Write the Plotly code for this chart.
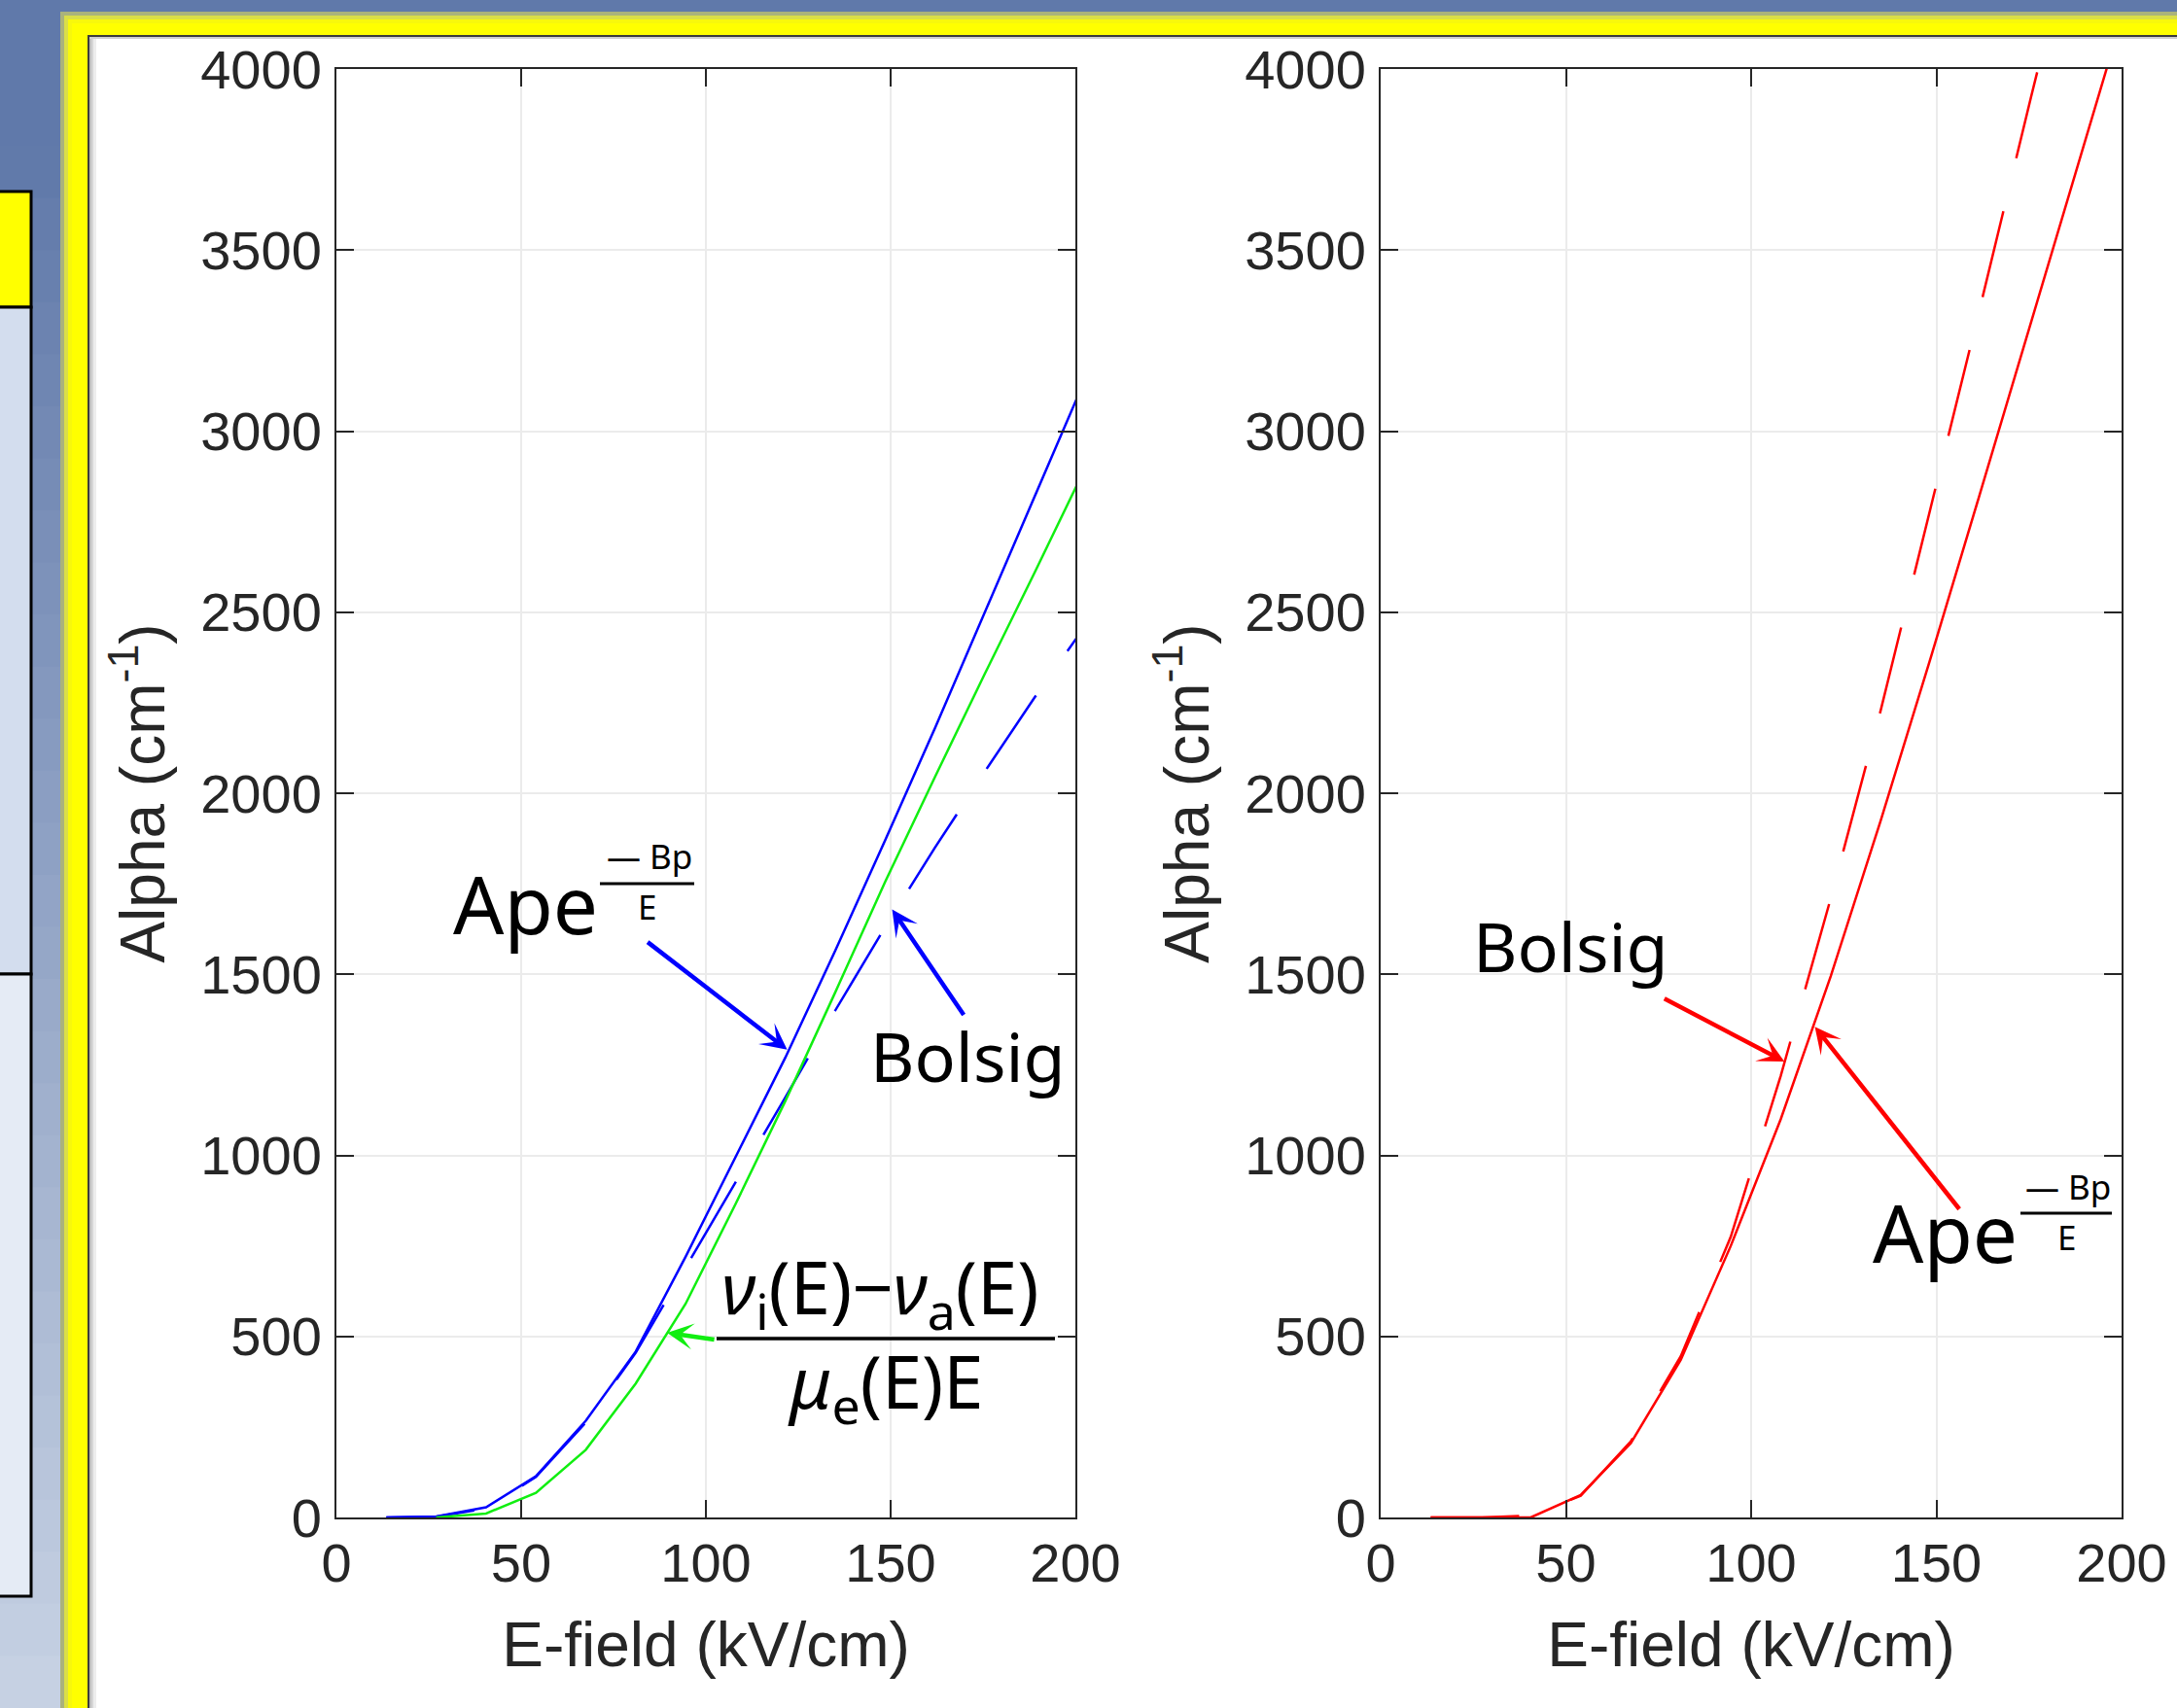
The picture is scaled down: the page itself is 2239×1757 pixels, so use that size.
import plotly.graph_objects as go

W, H = 2239, 1757

# ---------------- data ----------------
E_kVcm = [13.5, 27, 40.5, 54, 67.5, 81, 94.5, 108, 121.5, 135, 148.5, 162, 175.5, 189, 202.5]
alpha_fit_left = [0, 3, 28, 114, 267, 458, 720, 993, 1270, 1565, 1870, 2180, 2502, 2820, 3140]
alpha_bolsig_left = [0, 2, 25, 112, 262, 455, 690, 925, 1160, 1400, 1630, 1850, 2060, 2265, 2460]
E_kinetic = [27, 40.5, 54, 67.5, 81, 94.5, 108, 121.5, 135, 148.5, 162, 175.5, 189, 202.5]
alpha_kinetic_left = [0, 11, 68, 187, 370, 590, 865, 1150, 1450, 1755, 2045, 2330, 2610, 2895]
alpha_fit_right = [0, 0, 0, 62, 205, 435, 750, 1100, 1495, 1925, 2375, 2835, 3295, 3760, 4225]
alpha_bolsig_right = [0, 0, 5, 60, 210, 445, 775, 1220, 1710, 2230, 2790, 3350, 3920, 4480, 5040]

x_tickvals = [0, 50, 100, 150, 200]
x_ticktext = ["0", "50", "100", "150", "200"]
y_tickvals = [0, 500, 1000, 1500, 2000, 2500, 3000, 3500, 4000]
y_ticktext = ["0", "500", "1000", "1500", "2000", "2500", "3000", "3500", "4000"]

x_title = "E-field (kV/cm)"
y_title = "Alpha (cm<sup>-1</sup>)"

# arrow tips (data coords) and tail offsets (px)
arrow_left_fit = (122.0, 1292, -144, -111)
arrow_left_bolsig = (150.4, 1679, 74, 109)
arrow_left_kinetic = (89.5, 510, 49, 7)
arrow_right_bolsig = (109.0, 1259, -124, -65)
arrow_right_fit = (117.2, 1355, 149, 188)

BLUE = "#0000ff"
GREEN = "#11ee11"
RED = "#ff0000"
AXC = "#262626"
DASH = "91px,56px"


def px(x):
    return x / W


def py(y):
    return 1 - y / H


fig = go.Figure()

fig.add_trace(go.Scatter(x=E_kVcm, y=alpha_fit_left, mode="lines",
                         line=dict(color=BLUE, width=2.5), xaxis="x", yaxis="y"))
fig.add_trace(go.Scatter(x=E_kVcm, y=alpha_bolsig_left, mode="lines",
                         line=dict(color=BLUE, width=2.5, dash=DASH), xaxis="x", yaxis="y"))
fig.add_trace(go.Scatter(x=E_kinetic, y=alpha_kinetic_left, mode="lines",
                         line=dict(color=GREEN, width=2.5), xaxis="x", yaxis="y"))
fig.add_trace(go.Scatter(x=E_kVcm, y=alpha_fit_right, mode="lines",
                         line=dict(color=RED, width=2.5), xaxis="x2", yaxis="y2"))
fig.add_trace(go.Scatter(x=E_kVcm, y=alpha_bolsig_right, mode="lines",
                         line=dict(color=RED, width=2.5, dash=DASH), xaxis="x2", yaxis="y2"))

tickfont = dict(family="Liberation Sans, Arial, sans-serif", size=56, color=AXC)
titlefont = dict(family="Liberation Sans, Arial, sans-serif", size=64, color=AXC)

common = dict(showline=True, linecolor=AXC, linewidth=2, mirror="ticks",
              ticks="inside", ticklen=18, tickwidth=2, tickcolor=AXC,
              showgrid=True, gridcolor="#ebebeb", gridwidth=1.5,
              zeroline=False, tickfont=tickfont, automargin=False)

xdom_l = [px(346), px(1106)]
xdom_r = [px(1420), px(2182)]
ydom = [py(1561), py(71)]

fig.update_layout(
    width=W, height=H, margin=dict(l=0, r=0, t=0, b=0, pad=0),
    paper_bgcolor="#6079aa", plot_bgcolor="rgba(0,0,0,0)", showlegend=False,
    xaxis=dict(domain=xdom_l, range=[0, 200], anchor="y", tickvals=x_tickvals, ticktext=x_ticktext,
               title=dict(text=x_title, font=titlefont, standoff=31), ticklabelstandoff=-3, **common),
    yaxis=dict(domain=ydom, range=[0, 4000], anchor="x", tickvals=y_tickvals, ticktext=y_ticktext,
               title=dict(text=y_title, font=titlefont, standoff=16), ticklabelstandoff=2, **common),
    xaxis2=dict(domain=xdom_r, range=[0, 200], anchor="y2", tickvals=x_tickvals, ticktext=x_ticktext,
                title=dict(text=x_title, font=titlefont, standoff=31), ticklabelstandoff=-3, **common),
    yaxis2=dict(domain=ydom, range=[0, 4000], anchor="x2", tickvals=y_tickvals, ticktext=y_ticktext,
                title=dict(text=y_title, font=titlefont, standoff=16), ticklabelstandoff=2, **common),
)

# ---------------- slide decoration (shapes) ----------------
shapes = []


def rect(x0, y0, x1, y1, fill, lc=None, lw=0):
    shapes.append(dict(type="rect", xref="paper", yref="paper", layer="below",
                       x0=px(x0), x1=px(x1), y0=py(y1), y1=py(y0),
                       fillcolor=fill, line=dict(color=lc or fill, width=lw)))


def hline(x0, x1, y, color, width):
    shapes.append(dict(type="line", xref="paper", yref="paper", layer="above",
                       x0=px(x0), x1=px(x1), y0=py(y), y1=py(y),
                       line=dict(color=color, width=width)))


# left strip gradient
top_c = (96, 121, 170)
bot_c = (200, 211, 228)
N = 30
for i in range(N):
    y0 = 150 + i * (H - 150) / N
    y1 = 150 + (i + 1) * (H - 150) / N + 1
    t = (i + 0.5) / N
    c = tuple(int(top_c[k] + (bot_c[k] - top_c[k]) * t) for k in range(3))
    rect(0, y0, 72, y1, "rgb(%d,%d,%d)" % c)

# yellow glow and white panel
rect(62, 12, W + 5, H + 5, "#aab27c")
rect(66, 16, W + 5, H + 5, "#dade48")
rect(70, 20, W + 5, H + 5, "#f8f80c")
rect(74, 24, W + 5, H + 5, "#ffff00")
rect(90, 36, W + 5, H + 5, "#3c3c3c")
rect(92, 38, W + 5, H + 5, "#ffffff")
rect(92, 38, 94, H + 5, "#bdbdbd")
rect(94, 38, 96, H + 5, "#d6d6d6")
rect(96, 38, 99, H + 5, "#ededed")
rect(92, 38, W + 5, 40, "#d0d0d0")

# left partial boxes
rect(-10, 197, 32, 316, "#ffff00", "#000000", 3)
rect(-10, 316, 32, 1002, "#d3ddee", "#000000", 3)
rect(-10, 1002, 32, 1642, "#e5ebf5", "#000000", 3)

# fraction bars
hline(617, 714, 909, "#000000", 3)
hline(2078, 2172, 1248, "#000000", 3)
hline(737, 1085, 1377, "#000000", 3.5)

fig.update_layout(shapes=shapes)

# ---------------- annotations ----------------
TF = "Noto Sans, DejaVu Sans, sans-serif"
ann = []


def text(x, y, s, size, color="#000000"):
    ann.append(dict(xref="paper", yref="paper", x=px(x), y=py(y), text=s, showarrow=False,
                    xanchor="center", yanchor="middle",
                    font=dict(family=TF, size=size, color=color)))


def arrow(spec, xr, yr, color):
    x, y, ax, ay = spec
    ann.append(dict(xref=xr, yref=yr, x=x, y=y, ax=ax, ay=ay, text="", showarrow=True,
                    font=dict(size=1), borderpad=0,
                    arrowhead=3, arrowsize=1.0, arrowwidth=4.5, arrowcolor=color, standoff=0))


# left plot
text(540.6, 928.7, "Ape", 82)
text(668, 880, "— Bp", 35)
text(665, 932, "E", 35)
text(995, 1086, "Bolsig", 70)
text(905, 1328, "<i>ν</i><sub>i</sub>(E)−<i>ν</i><sub>a</sub>(E)", 74)
text(910, 1425, "<i>μ</i><sub>e</sub>(E)E", 74)
arrow(arrow_left_fit, "x", "y", BLUE)
arrow(arrow_left_bolsig, "x", "y", BLUE)
arrow(arrow_left_kinetic, "x", "y", GREEN)

# right plot
text(1615, 973, "Bolsig", 70)
text(2000, 1267, "Ape", 82)
text(2127, 1220, "— Bp", 35)
text(2125.5, 1272, "E", 35)
arrow(arrow_right_bolsig, "x2", "y2", RED)
arrow(arrow_right_fit, "x2", "y2", RED)

fig.update_layout(annotations=ann)

fig.write_html("out.html")
